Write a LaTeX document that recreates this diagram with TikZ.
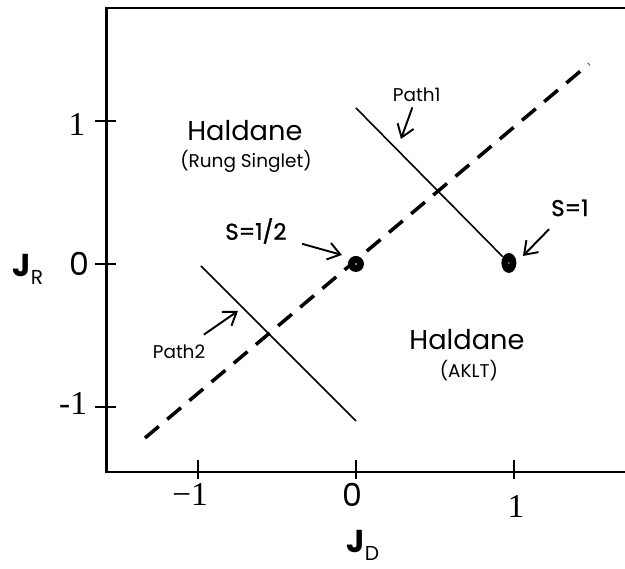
\documentclass[tikz,border=0pt]{standalone}
\usepackage{fontspec}
\setmainfont{Poppins}
\newfontfamily\numfont{Liberation Serif}
\newfontfamily\semifont[FakeBold=1.2]{Poppins}
\usepackage{tikz}
\usetikzlibrary{arrows.meta, shapes.geometric}

\begin{document}
\begin{tikzpicture}[
  x=3.16cm, y=2.86cm,
  axisline/.style={line width=1.7pt},
  axtick/.style={line width=1.3pt},
  numlbl/.style={font=\numfont\fontsize{19}{19}\selectfont, inner sep=0pt},
  zerolbl/.style={font=\fontsize{18}{18}\selectfont, inner sep=0pt},
  region/.style={font=\fontsize{15.5}{16}\selectfont, inner sep=0pt},
  regsub/.style={font=\fontsize{10.5}{11}\selectfont, inner sep=0pt},
  pathlbl/.style={font=\fontsize{10.5}{11}\selectfont, inner sep=0pt},
  spinlbl/.style={font=\semifont\fontsize{13}{13}\selectfont, inner sep=0pt},
  axlbl/.style={font=\bfseries\fontsize{18}{18}\selectfont, inner sep=0pt},
  boundary/.style={dash pattern=on 3.6mm off 2.2mm, line width=2pt},
  pathline/.style={line width=0.9pt},
  spot/.style={fill=black, inner sep=0pt},
  ptr/.style={-{Straight Barb[length=2.4mm,width=3.4mm]}, line width=1.1pt},
]
\useasboundingbox (-2.253,-2.133) rectangle (1.703,1.846);

% frame and ticks
\draw[axisline] (1.703,1.79) -- (-1.576,1.79) -- (-1.576,-1.455) -- (1.703,-1.455);
\foreach \y in {-1,0,1} \draw[axtick] (-1.652,\y) -- (-1.519,\y);
\foreach \x in {-1,0,1} \draw[axtick] (\x,-1.371) -- (\x,-1.503);

\node[numlbl, anchor=east]  (y1)  at (-1.71,0.975)  {1};
\node[zerolbl, anchor=east] (y0)  at (-1.684,0)     {0};
\node[numlbl, anchor=east]  (ym1) at (-1.70,-0.979) {-1};
\node[numlbl, anchor=north] (xm1) at (-1.05,-1.531) {−1};
\node[zerolbl, anchor=north](x0)  at (-0.025,-1.531){0};
\node[numlbl, anchor=north] (x1)  at (1.013,-1.615) {1};

\node[axlbl] (jr) at (-2.076,-0.04) {J\raisebox{-0.45ex}{\mdseries\fontsize{11.5}{11.5}\selectfont R}};
\node[axlbl] (jd) at (0.044,-1.965) {J\raisebox{-0.45ex}{\mdseries\fontsize{11.5}{11.5}\selectfont D}};

% phases
\node[region] (rs)      at (-0.703,0.93)  {Haldane};
\node[regsub] (rssub)   at (-0.696,0.72)  {(Rung Singlet)};
\node[region] (aklt)    at (0.703,-0.531) {Haldane};
\node[regsub] (akltsub) at (0.715,-0.748) {(AKLT)};

% boundary J_R = J_D
\coordinate (bdlo) at (-1.335,-1.217);
\coordinate (bdhi) at (1.475,1.399);
\draw[boundary] (bdlo) -- (bdhi);

% spin points
\node[spot, circle, minimum size=3.2mm] (half) at (0,0) {};
\node[spot, ellipse, minimum width=3mm, minimum height=4mm] (one) at (0.968,0.007) {};
\fill[white] (half.center) circle (0.5pt);
\fill[white] (one.center) circle (0.4pt);

% paths
\coordinate (p1top) at (0,1.091);
\draw[pathline] (p1top) -- (one);
\coordinate (p2top) at (-0.981,-0.014);
\coordinate (p2bot) at (0,-1.098);
\draw[pathline] (p2top) -- (p2bot);

% pointers
\node[pathlbl] (p1lbl) at (0.385,1.18) {Path1};
\coordinate (p1tip) at (0.285,0.874);
\draw[ptr, shorten <=3pt] (p1lbl) -- (p1tip);

\node[pathlbl] (p2lbl) at (-1.12,-0.615) {Path2};
\coordinate (p2tip) at (-0.747,-0.329);
\draw[ptr, shorten <=10pt] (p2lbl) -- (p2tip);

\node[spinlbl] (s12lbl) at (-0.633,0.231) {S=1/2};
\coordinate (s12tip) at (-0.089,0.063);
\draw[ptr, shorten <=9pt] (s12lbl) -- (s12tip);

\node[spinlbl] (s1lbl) at (1.354,0.392) {S=1};
\coordinate (s1tip) at (1.057,0.056);
\draw[ptr, shorten <=10pt] (s1lbl) -- (s1tip);
\end{tikzpicture}
\end{document}
